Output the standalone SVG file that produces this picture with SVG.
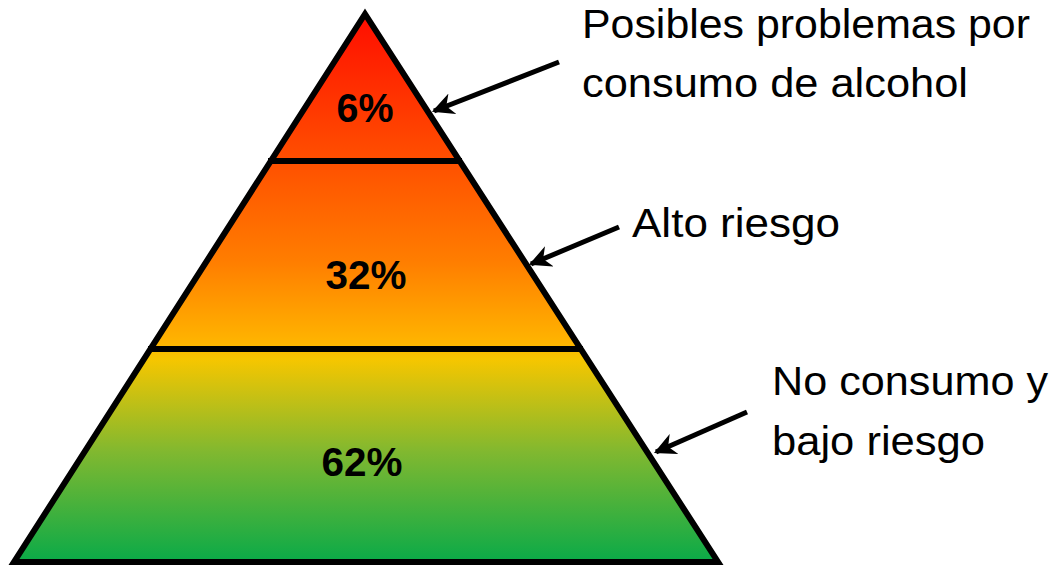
<svg xmlns="http://www.w3.org/2000/svg" width="1060" height="568" viewBox="0 0 1060 568">
<defs>
<linearGradient id="g" x1="0" y1="14" x2="0" y2="562" gradientUnits="userSpaceOnUse">
<stop offset="0" stop-color="#ff0d00"/>
<stop offset="0.27" stop-color="#ff5000"/>
<stop offset="0.45" stop-color="#ff7d00"/>
<stop offset="0.6" stop-color="#ffb400"/>
<stop offset="0.63" stop-color="#f6c600"/>
<stop offset="0.8" stop-color="#80b830"/>
<stop offset="1" stop-color="#0aaa48"/>
</linearGradient>
<marker id="ah" viewBox="0 0 10 10" refX="9" refY="5" markerWidth="4.4" markerHeight="4.4" orient="auto" markerUnits="strokeWidth">
<path d="M0,0 L10,5 L0,10 L3,5 Z" fill="#000"/>
</marker>
<style>
.lbl{font-family:"Liberation Sans",Arial,sans-serif;font-size:40px;fill:#000}
.pct{font-family:"Liberation Sans",Arial,sans-serif;font-size:40px;font-weight:bold;fill:#000;text-anchor:middle}
.arr{stroke:#000;stroke-width:5;fill:none;marker-end:url(#ah)}
</style>
</defs>
<g id="pyramid">
<polygon points="365,14 14,562 718,562" fill="url(#g)" stroke="#000" stroke-width="6" stroke-linejoin="miter"/>
<line x1="268" y1="161" x2="462" y2="161" stroke="#000" stroke-width="6"/>
<line x1="148" y1="349" x2="583" y2="349" stroke="#000" stroke-width="6"/>
</g>
<g id="tier-top"><text class="pct" x="365" y="122" textLength="57" lengthAdjust="spacingAndGlyphs">6%</text></g>
<g id="tier-mid"><text class="pct" x="366" y="289" textLength="81" lengthAdjust="spacingAndGlyphs">32%</text></g>
<g id="tier-bottom"><text class="pct" x="362" y="476" textLength="81" lengthAdjust="spacingAndGlyphs">62%</text></g>
<g id="label-top">
<text class="lbl" x="582" y="38" textLength="448" lengthAdjust="spacingAndGlyphs">Posibles problemas por</text>
<text class="lbl" x="582" y="97" textLength="386" lengthAdjust="spacingAndGlyphs">consumo de alcohol</text>
</g>
<g id="label-mid"><text class="lbl" x="632" y="237" textLength="208" lengthAdjust="spacingAndGlyphs">Alto riesgo</text></g>
<g id="label-bottom">
<text class="lbl" x="772" y="395" textLength="276" lengthAdjust="spacingAndGlyphs">No consumo y</text>
<text class="lbl" x="772" y="455" textLength="213" lengthAdjust="spacingAndGlyphs">bajo riesgo</text>
</g>
<g id="connectors">
<line class="arr" x1="559" y1="62" x2="434" y2="111"/>
<line class="arr" x1="619" y1="227" x2="531" y2="264"/>
<line class="arr" x1="747" y1="412" x2="656" y2="452"/>
</g>
</svg>
